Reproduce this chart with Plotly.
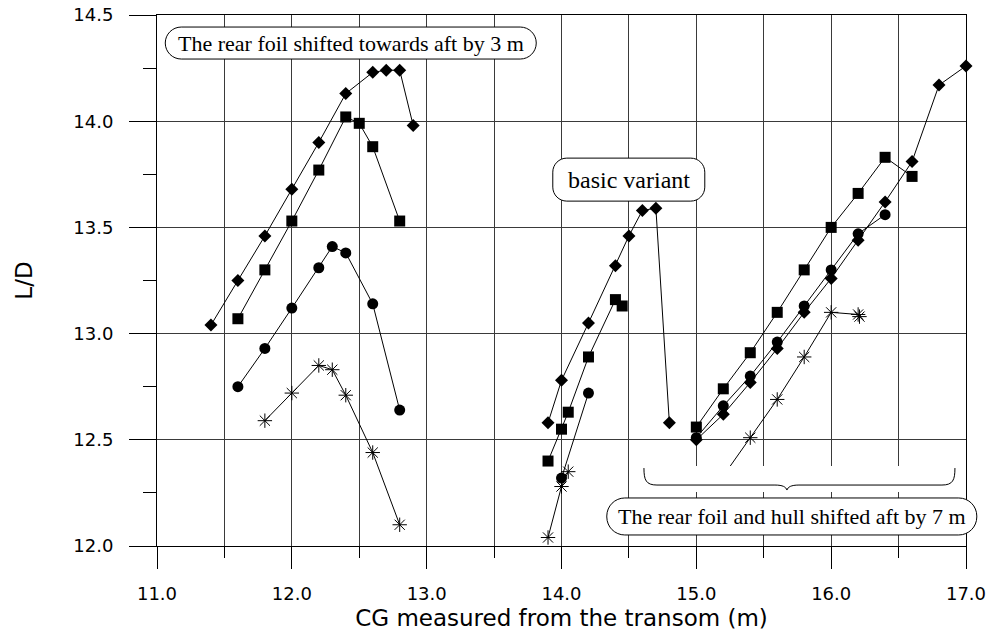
import plotly.graph_objects as go

# ---------------- data ----------------
# group 1: rear foil shifted towards aft by 3 m
g1_dia_x = [11.4, 11.6, 11.8, 12.0, 12.2, 12.4, 12.6, 12.7, 12.8, 12.9]
g1_dia_y = [13.04, 13.25, 13.46, 13.68, 13.90, 14.13, 14.23, 14.24, 14.24, 13.98]
g1_sq_x = [11.6, 11.8, 12.0, 12.2, 12.4, 12.5, 12.6, 12.8]
g1_sq_y = [13.07, 13.30, 13.53, 13.77, 14.02, 13.99, 13.88, 13.53]
g1_cir_x = [11.6, 11.8, 12.0, 12.2, 12.3, 12.4, 12.6, 12.8]
g1_cir_y = [12.75, 12.93, 13.12, 13.31, 13.41, 13.38, 13.14, 12.64]
g1_star_x = [11.8, 12.0, 12.2, 12.3, 12.4, 12.6, 12.8]
g1_star_y = [12.59, 12.72, 12.85, 12.83, 12.71, 12.44, 12.10]

# group 2: basic variant
g2_dia_x = [13.9, 14.0, 14.2, 14.4, 14.5, 14.6, 14.7, 14.8]
g2_dia_y = [12.58, 12.78, 13.05, 13.32, 13.46, 13.58, 13.59, 12.58]
g2_sq_x = [13.9, 14.0, 14.05, 14.2, 14.4, 14.45]
g2_sq_y = [12.40, 12.55, 12.63, 12.89, 13.16, 13.13]
g2_cir_x = [14.0, 14.2]
g2_cir_y = [12.32, 12.72]
g2_star_x = [13.9, 14.0, 14.05]
g2_star_y = [12.04, 12.28, 12.35]

# group 3: rear foil and hull shifted aft by 7 m
g3_dia_x = [15.0, 15.2, 15.4, 15.6, 15.8, 16.0, 16.2, 16.4, 16.6, 16.8, 17.0]
g3_dia_y = [12.50, 12.62, 12.77, 12.93, 13.10, 13.26, 13.44, 13.62, 13.81, 14.17, 14.26]
g3_sq_x = [15.0, 15.2, 15.4, 15.6, 15.8, 16.0, 16.2, 16.4, 16.6]
g3_sq_y = [12.56, 12.74, 12.91, 13.10, 13.30, 13.50, 13.66, 13.83, 13.74]
g3_cir_x = [15.0, 15.2, 15.4, 15.6, 15.8, 16.0, 16.2, 16.4]
g3_cir_y = [12.51, 12.66, 12.80, 12.96, 13.13, 13.30, 13.47, 13.56]
g3_star_x = [15.2, 15.4, 15.6, 15.8, 16.0, 16.2, 16.21]
g3_star_y = [12.33, 12.51, 12.69, 12.89, 13.10, 13.09, 13.08]

x_range = [11.0, 17.0]
y_range = [12.0, 14.5]

label_1 = "The rear foil shifted towards aft by 3 m"
label_2 = "basic variant"
label_3 = "The rear foil and hull shifted aft by 7 m"

# ---------------- figure ----------------
fig = go.Figure()

marker_styles = {
    "dia": dict(symbol="diamond", size=10, color="black"),
    "sq": dict(symbol="square", size=11, color="black"),
    "cir": dict(symbol="circle", size=11, color="black"),
    "star": dict(symbol="asterisk-open", size=12, color="black",
                 line=dict(width=1, color="black")),
}

series = [
    ("star", g1_star_x, g1_star_y), ("cir", g1_cir_x, g1_cir_y),
    ("sq", g1_sq_x, g1_sq_y), ("dia", g1_dia_x, g1_dia_y),
    ("star", g2_star_x, g2_star_y), ("cir", g2_cir_x, g2_cir_y),
    ("sq", g2_sq_x, g2_sq_y), ("dia", g2_dia_x, g2_dia_y),
    ("star", g3_star_x, g3_star_y), ("cir", g3_cir_x, g3_cir_y),
    ("sq", g3_sq_x, g3_sq_y), ("dia", g3_dia_x, g3_dia_y),
]
for kind, xs, ys in series:
    fig.add_trace(go.Scatter(
        x=xs, y=ys, mode="lines+markers",
        line=dict(color="black", width=1),
        marker=marker_styles[kind], showlegend=False, cliponaxis=False))


def to_paper(x, y):
    return ((x - x_range[0]) / (x_range[1] - x_range[0]),
            (y - y_range[0]) / (y_range[1] - y_range[0]))


def rounded_box(hw, hh, r):
    k = 0.5523 * r
    return (f"M {-hw + r},{hh} L {hw - r},{hh} "
            f"C {hw - r + k},{hh} {hw},{hh - r + k} {hw},{hh - r} "
            f"L {hw},{-hh + r} "
            f"C {hw},{-hh + r - k} {hw - r + k},{-hh} {hw - r},{-hh} "
            f"L {-hw + r},{-hh} "
            f"C {-hw + r - k},{-hh} {-hw},{-hh + r - k} {-hw},{-hh + r} "
            f"L {-hw},{hh - r} "
            f"C {-hw},{hh - r + k} {-hw + r - k},{hh} {-hw + r},{hh} Z")


def add_pixel_shape(anchor, path, fill=None, line=True):
    px, py = to_paper(*anchor)
    fig.add_shape(
        type="path", xref="paper", yref="paper",
        xsizemode="pixel", ysizemode="pixel",
        xanchor=px, yanchor=py, path=path, layer="above",
        fillcolor=fill if fill else "rgba(0,0,0,0)",
        line=dict(color="black", width=1) if line else dict(width=0))


# brace under group 3 (white band hides lines behind it)
brace_anchor = (15.672, 12.287)
add_pixel_shape(brace_anchor, "M -147,19 L 173,19 L 173,-7 L -147,-7 Z",
                fill="white", line=False)
add_pixel_shape(brace_anchor,
                "M -143,17 C -143,5 -141,0 -130,0 L -12,0 C -4,0 -1,-2 0,-5 "
                "C 1,-2 4,0 12,0 L 155,0 C 166,0 168,5 168,17")

boxes = [
    (label_1, (12.437, 14.368), 185.5, 16, 16, 22),
    (label_2, (14.499, 13.725), 76, 21.5, 14, 24),
    (label_3, (15.708, 12.139), 185, 18.5, 18, 22),
]
for text, anchor, hw, hh, r, fs in boxes:
    add_pixel_shape(anchor, rounded_box(hw, hh, r), fill="white")
    fig.add_annotation(x=anchor[0], y=anchor[1], xref="x", yref="y",
                       text=text, showarrow=False,
                       font=dict(family="Liberation Serif", size=fs, color="black"),
                       xanchor="center", yanchor="middle")

grid_col = "#3a3a3a"
fig.update_xaxes(
    range=x_range, tick0=11, dtick=1, tickformat=".1f",
    ticks="outside", ticklen=22, tickwidth=1, tickcolor="black",
    showgrid=True, gridcolor=grid_col, gridwidth=1,
    minor=dict(tick0=11, dtick=0.5, ticks="outside", ticklen=11,
               tickcolor="black", showgrid=True, gridcolor=grid_col, gridwidth=1),
    showline=True, linecolor="black", linewidth=1, mirror=True, zeroline=False,
    tickfont=dict(family="DejaVu Sans", size=18, color="black"),
    ticklabelstandoff=9, ticklabeloverflow="allow",
    title=dict(text="CG measured from the transom (m)", standoff=7,
               font=dict(family="DejaVu Sans", size=23, color="black")),
)
fig.update_yaxes(
    range=y_range, tick0=12, dtick=0.5, tickformat=".1f",
    ticks="outside", ticklen=27, tickwidth=1, tickcolor="black",
    showgrid=True, gridcolor=grid_col, gridwidth=1,
    minor=dict(tick0=12, dtick=0.25, ticks="outside", ticklen=13,
               tickcolor="black", showgrid=False),
    showline=True, linecolor="black", linewidth=1, mirror=True, zeroline=False,
    tickfont=dict(family="DejaVu Sans", size=18, color="black"),
    ticklabelstandoff=12, ticklabeloverflow="allow",
    title=dict(text="L/D", standoff=34,
               font=dict(family="DejaVu Sans", size=23, color="black")),
)
fig.update_layout(
    width=993, height=635,
    margin=dict(l=157, r=27, t=15, b=89, autoexpand=False),
    paper_bgcolor="white", plot_bgcolor="white",
    showlegend=False,
)
# remove the default 8px page margin so the figure fills the window exactly
fig.write_html("out.html", config={"displayModeBar": False},
               post_script="document.body.style.margin='0';")
